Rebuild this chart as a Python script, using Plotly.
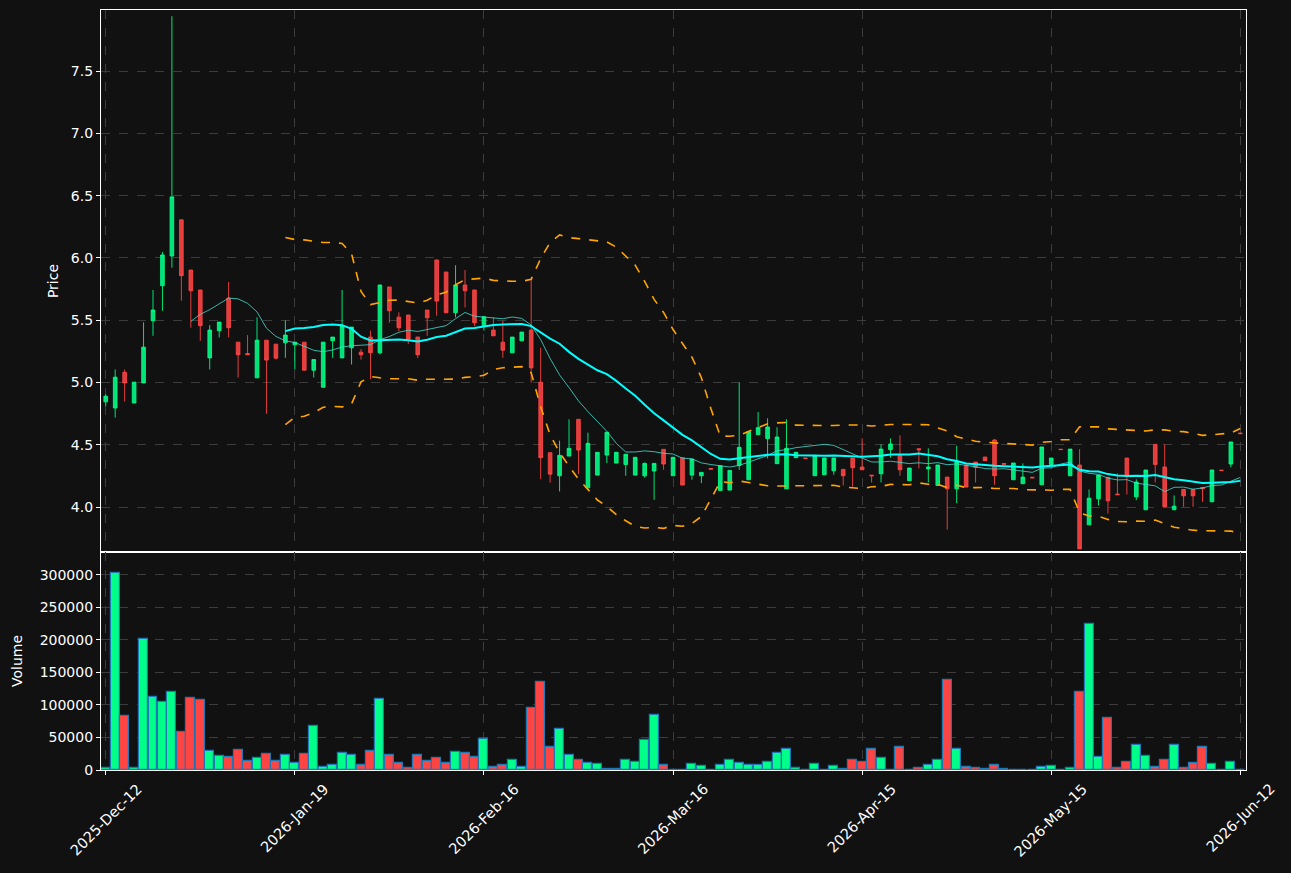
import plotly.graph_objects as go
from plotly.subplots import make_subplots
import pandas as pd

# ---- data ----
opens = [4.845, 4.796, 5.083, 4.836, 4.997, 5.496, 5.777, 6.016, 6.306, 5.903,
         5.743, 5.198, 5.416, 5.678, 5.324, 5.233, 5.038, 5.34, 5.308, 5.319,
         5.303, 5.324, 5.099, 4.962, 5.335, 5.198, 5.279, 5.244, 5.365, 5.239,
         5.767, 5.525, 5.542, 5.365, 5.582, 5.984, 5.887, 5.56, 5.783, 5.743,
         5.458, 5.421, 5.324, 5.239, 5.335, 5.421, 5.003, 4.437, 4.252, 4.41,
         4.705, 4.155, 4.257, 4.418, 4.354, 4.343, 4.257, 4.252, 4.29, 4.464,
         4.252, 4.397, 4.257, 4.252, 4.31, 4.134, 4.137, 4.335, 4.22, 4.582,
         4.55, 4.349, 4.147, 4.397, 4.395, 4.252, 4.26, 4.292, 4.303, 4.394,
         4.322, 4.257, 4.268, 4.461, 4.416, 4.212, 4.469, 4.308, 4.174, 4.241,
         4.147, 4.338, 4.362, 4.402, 4.539, 4.35, 4.22, 4.188, 4.24, 4.18,
         4.343, 4.465, 4.252, 4.338, 3.858, 4.067, 4.239, 4.105, 4.394, 4.083,
         3.979, 4.504, 4.322, 3.979, 4.142, 4.142, 4.158, 4.043, 4.297, 4.346,
         4.595]
highs = [4.906, 5.105, 5.105, 5.003, 5.483, 5.743, 6.048, 7.94, 6.306, 5.903,
         5.743, 5.461, 5.485, 5.807, 5.324, 5.381, 5.523, 5.34, 5.308, 5.499,
         5.324, 5.324, 5.185, 5.324, 5.365, 5.743, 5.445, 5.268, 5.418, 5.783,
         5.767, 5.563, 5.542, 5.365, 5.582, 5.984, 5.887, 5.941, 5.903, 5.743,
         5.528, 5.523, 5.496, 5.365, 5.405, 5.842, 5.279, 4.437, 4.534, 4.705,
         4.705, 4.598, 4.44, 4.601, 4.44, 4.424, 4.4, 4.359, 4.351, 4.464,
         4.4, 4.397, 4.386, 4.279, 4.31, 4.332, 4.295, 5.0, 4.606, 4.764,
         4.713, 4.641, 4.705, 4.44, 4.395, 4.416, 4.394, 4.394, 4.303, 4.394,
         4.552, 4.257, 4.504, 4.552, 4.576, 4.314, 4.469, 4.472, 4.338, 4.241,
         4.493, 4.338, 4.362, 4.402, 4.547, 4.35, 4.354, 4.351, 4.24, 4.483,
         4.394, 4.465, 4.466, 4.466, 4.142, 4.257, 4.239, 4.271, 4.394, 4.223,
         4.298, 4.504, 4.504, 4.094, 4.142, 4.142, 4.158, 4.298, 4.297, 4.523,
         4.595]
lows = [4.81, 4.718, 4.847, 4.836, 4.997, 5.375, 5.576, 5.922, 5.657, 5.44,
        5.335, 5.105, 5.362, 5.362, 5.04, 5.223, 5.038, 4.75, 5.185, 5.198,
        5.105, 5.099, 5.04, 4.962, 5.198, 5.198, 5.145, 5.185, 5.027, 5.225,
        5.48, 5.413, 5.308, 5.198, 5.375, 5.536, 5.56, 5.523, 5.603, 5.453,
        5.416, 5.375, 5.198, 5.239, 5.335, 5.0, 4.225, 4.196, 4.126, 4.41,
        4.265, 4.155, 4.257, 4.354, 4.354, 4.252, 4.257, 4.236, 4.059, 4.3,
        4.252, 4.177, 4.22, 4.193, 4.305, 4.134, 4.137, 4.3, 4.22, 4.582,
        4.391, 4.349, 4.147, 4.397, 4.39, 4.252, 4.26, 4.26, 4.174, 4.164,
        4.3, 4.198, 4.198, 4.397, 4.252, 4.212, 4.311, 4.198, 4.174, 3.82,
        4.032, 4.161, 4.198, 4.373, 4.18, 4.345, 4.22, 4.188, 4.235, 4.18,
        4.343, 4.462, 4.252, 3.665, 3.858, 4.013, 3.949, 4.1, 4.102, 4.056,
        3.979, 4.198, 4.003, 3.979, 4.003, 4.003, 4.043, 4.043, 4.294, 4.319,
        4.59]
closes = [4.89, 5.043, 4.997, 5.003, 5.284, 5.582, 6.024, 6.49, 5.858, 5.737,
          5.456, 5.421, 5.485, 5.44, 5.223, 5.223, 5.34, 5.18, 5.196, 5.381,
          5.324, 5.099, 5.185, 5.324, 5.365, 5.456, 5.445, 5.223, 5.239, 5.783,
          5.576, 5.44, 5.349, 5.223, 5.52, 5.654, 5.56, 5.783, 5.737, 5.48,
          5.528, 5.375, 5.26, 5.365, 5.405, 5.118, 4.397, 4.265, 4.416, 4.472,
          4.458, 4.512, 4.44, 4.601, 4.44, 4.424, 4.4, 4.351, 4.351, 4.346,
          4.4, 4.177, 4.386, 4.279, 4.305, 4.332, 4.295, 4.48, 4.606, 4.638,
          4.643, 4.563, 4.472, 4.44, 4.39, 4.416, 4.394, 4.394, 4.252, 4.316,
          4.3, 4.252, 4.466, 4.507, 4.3, 4.314, 4.46, 4.322, 4.338, 4.147,
          4.365, 4.161, 4.319, 4.373, 4.252, 4.345, 4.354, 4.241, 4.235, 4.483,
          4.394, 4.462, 4.466, 3.665, 4.072, 4.257, 4.051, 4.1, 4.257, 4.201,
          4.298, 4.343, 4.003, 4.008, 4.091, 4.091, 4.148, 4.298, 4.294, 4.523,
          4.59]
volumes = [3500, 302000, 82600, 2500, 201000, 112000, 104000, 119500, 58000, 110000,
           107000, 28700, 21000, 20000, 30000, 14000, 18000, 24000, 14000, 22500,
           10000, 24000, 67000, 4000, 7000, 25600, 22500, 7000, 28700, 108700,
           22500, 10000, 2500, 22500, 14000, 18000, 10000, 27000, 25600, 19500,
           47000, 5000, 7000, 15000, 4000, 95000, 135000, 35000, 62500, 22500,
           15000, 10000, 8700, 1000, 1000, 15000, 13000, 45600, 84000, 7000,
           500, 500, 8700, 5600, 300, 7000, 16000, 10000, 7000, 7000,
           12000, 25600, 32000, 2500, 300, 8700, 300, 5600, 1000, 16000,
           13000, 32000, 18000, 300, 36000, 300, 2500, 7000, 15000, 138000,
           33000, 4000, 2500, 1000, 7000, 1000, 300, 300, 300, 4000,
           5600, 300, 2500, 119500, 224000, 19500, 79500, 2500, 12000, 38000,
           21000, 4000, 15000, 38000, 2500, 10000, 36000, 8700, 300, 12000,
           300]
tick_positions = [0, 20, 40, 60, 80, 100, 120]
tick_labels = ["2025-Dec-12", "2026-Jan-19", "2026-Feb-16", "2026-Mar-16",
               "2026-Apr-15", "2026-May-15", "2026-Jun-12"]

idx = list(range(len(closes)))
close_s = pd.Series(closes)
sma10 = close_s.rolling(10).mean()
sma20 = close_s.rolling(20).mean()
std20 = close_s.rolling(20).std(ddof=0)
upper = sma20 + 2 * std20
lower = sma20 - 2 * std20

UP = "#00ff88"
DOWN = "#ff4444"
vol_colors = [UP if c >= o else DOWN for o, c in zip(opens, closes)]

fig = make_subplots(rows=2, cols=1, shared_xaxes=True, vertical_spacing=0,
                    row_heights=[542, 218])

fig.add_trace(go.Candlestick(
    x=idx, open=opens, high=highs, low=lows, close=closes,
    increasing=dict(line=dict(color="rgba(0,255,136,0.88)", width=1),
                    fillcolor="rgba(0,255,136,0.88)"),
    decreasing=dict(line=dict(color="rgba(255,68,68,0.88)", width=1),
                    fillcolor="rgba(255,68,68,0.88)"),
    whiskerwidth=0, showlegend=False), row=1, col=1)

fig.add_trace(go.Scatter(x=idx, y=sma10, mode="lines",
                         line=dict(color="rgba(64,224,208,0.8)", width=1),
                         showlegend=False), row=1, col=1)
fig.add_trace(go.Scatter(x=idx, y=sma20, mode="lines",
                         line=dict(color="#00ffff", width=2),
                         showlegend=False), row=1, col=1)
fig.add_trace(go.Scatter(x=idx, y=upper, mode="lines",
                         line=dict(color="#ffa500", width=1.6, dash="dash"),
                         showlegend=False), row=1, col=1)
fig.add_trace(go.Scatter(x=idx, y=lower, mode="lines",
                         line=dict(color="#ffa500", width=1.6, dash="dash"),
                         showlegend=False), row=1, col=1)

fig.add_trace(go.Bar(x=idx, y=volumes, width=0.95,
                     marker=dict(color=vol_colors,
                                 line=dict(color="#1f77b4", width=1.2)),
                     showlegend=False), row=2, col=1)

BG = "#111111"
GRID = "#3c3c3c"
axis_common = dict(showline=True, linecolor="white", linewidth=1.2, mirror=True,
                   showgrid=True, gridcolor=GRID, griddash="dash", gridwidth=1,
                   ticks="outside", tickcolor="white", ticklen=4,
                   zeroline=False, tickfont=dict(size=14))

fig.update_layout(
    width=1291, height=873,
    paper_bgcolor=BG, plot_bgcolor=BG,
    margin=dict(l=101, r=45, t=10, b=103),
    font=dict(family="DejaVu Sans", size=14, color="white"),
    showlegend=False,
    bargap=0,
    boxgap=0.45,
)
fig.update_xaxes(**axis_common, range=[-0.5, 120.6],
                 tickmode="array", tickvals=tick_positions, ticktext=tick_labels)
fig.update_xaxes(rangeslider_visible=False, showticklabels=False, row=1, col=1)
fig.update_xaxes(showticklabels=False, row=2, col=1)
fig.update_yaxes(**axis_common)
fig.update_yaxes(range=[3.64, 7.99], tickvals=[4.0, 4.5, 5.0, 5.5, 6.0, 6.5, 7.0, 7.5],
                 tickformat=".1f",
                 title=dict(text="Price", standoff=8, font=dict(size=14)), row=1, col=1)
fig.update_yaxes(range=[0, 335000], tickvals=[0, 50000, 100000, 150000, 200000, 250000, 300000],
                 tickformat="d",
                 title=dict(text="Volume", standoff=13, font=dict(size=14)), row=2, col=1)

# rotated date labels, centred under each tick
for pos, lab in zip(tick_positions, tick_labels):
    fig.add_annotation(x=pos, y=0, xref="x2", yref="y2 domain",
                       text=lab, textangle=-45, showarrow=False,
                       xanchor="center", yanchor="top", yshift=-8,
                       font=dict(size=14.5, color="white"))

fig.write_html("out.html")
